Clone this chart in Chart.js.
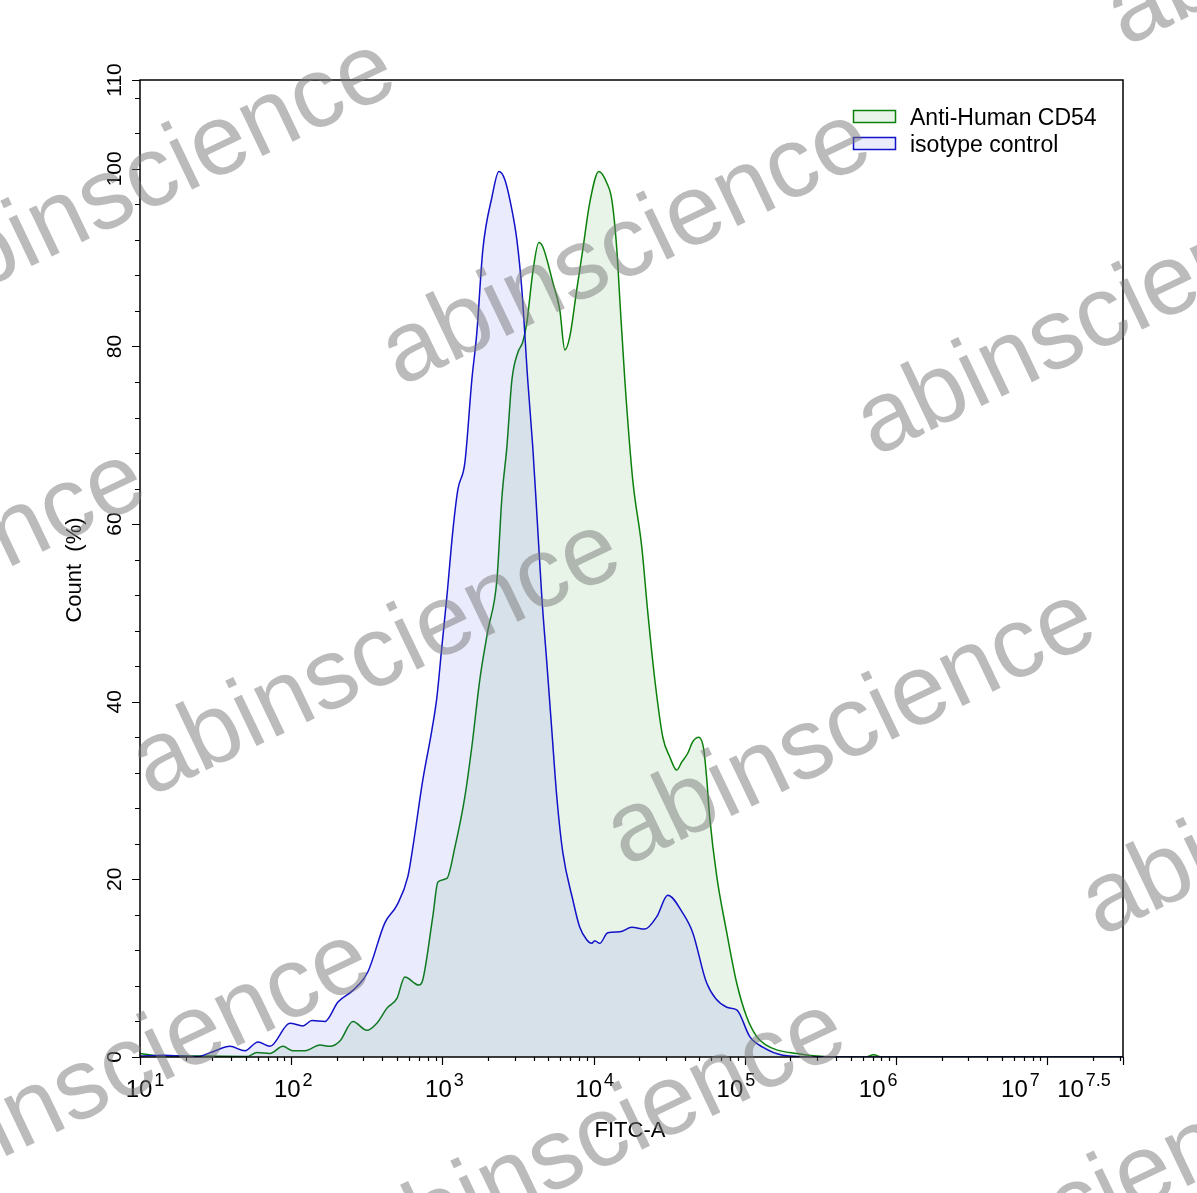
<!DOCTYPE html>
<html>
<head>
<meta charset="utf-8">
<script src="https://cdn.jsdelivr.net/npm/chart.js@4.4.1/dist/chart.umd.min.js"></script>
<style>
  body { margin: 0; background: #fff; }
  canvas { display: block; }
</style>
</head>
<body>
<canvas id="flowChart" width="1197" height="1193"></canvas>
<script>
// FITC-A positions are stored as log10 exponents, counts in %
const cd54Exp = [1.000, 1.152, 1.397, 1.707, 1.773, 1.859, 1.945, 2.011, 2.091, 2.190, 2.256, 2.322, 2.408, 2.500, 2.566,
  2.633, 2.699, 2.751, 2.844, 2.870, 2.936, 2.970, 3.029, 3.082, 3.148, 3.194, 3.247, 3.300, 3.360, 3.393, 3.426, 3.459,
  3.498, 3.531, 3.558, 3.597, 3.637, 3.664, 3.730, 3.776, 3.809, 3.842, 3.888, 3.928, 3.974, 4.034, 4.087, 4.120, 4.153,
  4.173, 4.206, 4.258, 4.318, 4.358, 4.404, 4.457, 4.503, 4.549, 4.582, 4.622, 4.655, 4.695, 4.728, 4.748, 4.767, 4.814,
  4.880, 4.946, 5.012, 5.078, 5.144, 5.210, 5.342, 5.475, 5.627, 5.798, 5.851, 5.904, 7.500];
const cd54Count = [0.4, 0.1, 0.1, 0.05, 0.5, 0.4, 1.2, 0.7, 0.7, 1.35, 1.2, 1.8, 4.0, 3.0, 3.8,
  5.5, 6.6, 9.0, 8.1, 8.7, 15.8, 19.7, 20.1, 23.6, 29.3, 34.9, 42.5, 48.0, 53.7, 63.0, 68.7, 76.2,
  79.3, 80.5, 82.7, 88.3, 91.7, 91.2, 87.2, 84.1, 79.6, 81.1, 86.4, 90.9, 96.2, 99.7, 98.4, 96.5, 90.9,
  85.2, 76.2, 65.0, 57.4, 50.0, 42.5, 36.0, 33.8, 32.3, 33.2, 34.2, 35.5, 36.0, 34.6, 31.2, 27.0, 20.3,
  14.0, 8.3, 4.5, 2.3, 1.3, 0.8, 0.4, 0.1, 0, 0, 0.25, 0, 0];

const isoExp = [1.000, 1.152, 1.377, 1.482, 1.595, 1.694, 1.780, 1.859, 1.991, 2.077, 2.137, 2.223, 2.309, 2.408, 2.507,
  2.619, 2.699, 2.771, 2.804, 2.870, 2.930, 2.963, 2.996, 3.029, 3.069, 3.102, 3.148, 3.194, 3.227, 3.267, 3.327, 3.373,
  3.412, 3.459, 3.492, 3.525, 3.564, 3.597, 3.624, 3.657, 3.690, 3.723, 3.756, 3.796, 3.862, 3.908, 3.954, 3.987, 4.007,
  4.040, 4.093, 4.173, 4.252, 4.338, 4.417, 4.490, 4.589, 4.655, 4.748, 4.880, 4.946, 5.032, 5.118, 5.250, 5.475, 7.500];
const isoCount = [0.1, 0.2, 0.05, 0.6, 1.2, 0.7, 1.7, 1.2, 3.8, 3.5, 4.1, 4.0, 6.2, 7.5, 9.6,
  15.1, 17.1, 20.3, 23.6, 31.2, 36.8, 40.5, 46.2, 51.8, 59.3, 63.9, 66.9, 76.2, 81.5, 90.9, 96.8, 99.7,
  98.8, 95.4, 92.0, 86.4, 76.2, 68.7, 61.2, 51.8, 44.4, 36.8, 29.3, 23.0, 17.7, 14.6, 13.2, 12.8, 13.1,
  12.8, 14.0, 14.1, 14.6, 14.4, 15.8, 18.2, 16.2, 14.0, 8.3, 5.6, 5.3, 2.3, 1.1, 0.2, 0, 0];

const seriesNames = ['Anti-Human CD54', 'isotype control'];
const xTickExps = [1, 2, 3, 4, 5, 6, 7, 7.5];
const yTickLabels = [0, 20, 40, 60, 80, 100, 110];

const FONT = '"Liberation Sans", Arial, sans-serif';

function toPoints(exps, counts) {
  return exps.map((e, i) => ({ x: Math.pow(10, e), y: counts[i] }));
}

// axes, ticks, labels, legend and watermark drawn on top of the library scales
const flowDecor = {
  id: 'flowDecor',
  afterDatasetsDraw(chart) {
    const ctx = chart.ctx;
    const xs = chart.scales.x, ys = chart.scales.y;
    const ca = chart.chartArea;
    ctx.save();
    ctx.strokeStyle = '#000';
    ctx.lineWidth = 1.5;
    ctx.strokeRect(ca.left, ca.top, ca.right - ca.left, ca.bottom - ca.top);

    // x ticks: decades + minor
    ctx.lineWidth = 1.2;
    ctx.beginPath();
    for (let d = 1; d <= 7; d++) {
      for (let k = 2; k <= 9; k++) {
        const v = k * Math.pow(10, d);
        if (v > xs.max) break;
        const px = Math.round(xs.getPixelForValue(v)) + 0.5;
        ctx.moveTo(px, ca.bottom); ctx.lineTo(px, ca.bottom + 4);
      }
    }
    xTickExps.forEach(e => {
      const px = Math.round(xs.getPixelForValue(Math.pow(10, e))) + 0.5;
      ctx.moveTo(px, ca.bottom); ctx.lineTo(px, ca.bottom + 8);
    });
    // y ticks
    for (let v = 0; v <= 110; v += 4) {
      const py = Math.round(ys.getPixelForValue(v)) + 0.5;
      ctx.moveTo(ca.left, py); ctx.lineTo(ca.left - 5, py);
    }
    yTickLabels.forEach(v => {
      const py = Math.round(ys.getPixelForValue(v)) + 0.5;
      ctx.moveTo(ca.left, py); ctx.lineTo(ca.left - 8, py);
    });
    ctx.stroke();

    // x tick labels 10^n
    ctx.fillStyle = '#000';
    ctx.textBaseline = 'alphabetic';
    ctx.textAlign = 'left';
    const nudge = [5, 2, 2, 1, -9, -18, -27, -39];
    xTickExps.forEach((e, i) => {
      const px = xs.getPixelForValue(Math.pow(10, e));
      ctx.font = '24px ' + FONT;
      const wBase = ctx.measureText('10').width;
      ctx.font = '18px ' + FONT;
      const wExp = ctx.measureText(String(e)).width;
      const x0 = px - (wBase + 2 + wExp) / 2 + nudge[i];
      ctx.font = '24px ' + FONT;
      ctx.fillText('10', x0, ca.bottom + 40);
      ctx.font = '18px ' + FONT;
      ctx.fillText(String(e), x0 + wBase + 2, ca.bottom + 29);
    });

    // y tick labels, rotated
    ctx.font = '21px ' + FONT;
    ctx.textAlign = 'center';
    yTickLabels.forEach(v => {
      const py = ys.getPixelForValue(v);
      ctx.save();
      ctx.translate(120.5, py);
      ctx.rotate(-Math.PI / 2);
      ctx.fillText(String(v), 0, 0);
      ctx.restore();
    });

    // axis titles
    ctx.font = '22px ' + FONT;
    ctx.fillText('FITC-A', 630, 1137);
    ctx.save();
    ctx.translate(81, 570);
    ctx.rotate(-Math.PI / 2);
    ctx.fillText('Count  (%)', 0, 0);
    ctx.restore();

    // legend
    ctx.textAlign = 'left';
    ctx.font = '23px ' + FONT;
    chart.data.datasets.forEach((ds, i) => {
      const y = 110 + i * 27;
      ctx.fillStyle = ds.legendFill;
      ctx.fillRect(853, y, 42, 12);
      ctx.strokeStyle = ds.borderColor;
      ctx.lineWidth = 1.5;
      ctx.strokeRect(853.5, y + 0.5, 42, 12);
      ctx.fillStyle = '#000';
      ctx.fillText(ds.label, 910, y + 15);
    });
    ctx.restore();
  },
  afterDraw(chart) {
    const ctx = chart.ctx;
    ctx.save();
    ctx.font = '100px ' + FONT;
    ctx.fillStyle = 'rgba(120,120,120,0.5)';
    ctx.textAlign = 'left';
    ctx.textBaseline = 'alphabetic';
    for (let i = -2; i <= 2; i++) {
      for (let j = -1; j <= 2; j++) {
        const x = 150 + i * 475 + j * 250;
        const y = 797 + i * 70 - j * 410;
        ctx.save();
        ctx.translate(x, y);
        ctx.rotate(-25.5 * Math.PI / 180);
        ctx.fillText('abinscience', 0, 0);
        ctx.restore();
      }
    }
    ctx.restore();
  }
};

new Chart(document.getElementById('flowChart').getContext('2d'), {
  type: 'line',
  data: {
    datasets: [
      {
        label: seriesNames[0],
        data: toPoints(cd54Exp, cd54Count),
        borderColor: '#0b800b',
        backgroundColor: 'rgba(0,130,0,0.09)',
        legendFill: 'rgba(0,130,0,0.09)',
        borderWidth: 1.5,
        fill: 'origin',
        pointRadius: 0,
        cubicInterpolationMode: 'monotone',
        order: 2
      },
      {
        label: seriesNames[1],
        data: toPoints(isoExp, isoCount),
        borderColor: '#1212c8',
        backgroundColor: 'rgba(50,60,235,0.1)',
        legendFill: 'rgba(50,60,235,0.1)',
        borderWidth: 1.5,
        fill: 'origin',
        pointRadius: 0,
        cubicInterpolationMode: 'monotone',
        order: 1
      }
    ]
  },
  options: {
    responsive: false,
    animation: false,
    layout: { padding: { left: 140, right: 74, top: 80, bottom: 136 } },
    plugins: {
      legend: { display: false },
      tooltip: { enabled: false }
    },
    scales: {
      x: { type: 'logarithmic', min: 10, max: Math.pow(10, 7.5), display: false },
      y: { type: 'linear', min: 0, max: 110, display: false }
    }
  },
  plugins: [flowDecor]
});
</script>
</body>
</html>
